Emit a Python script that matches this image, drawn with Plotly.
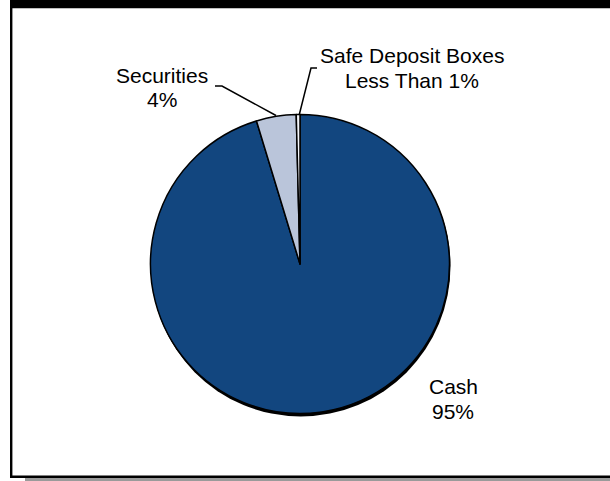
import plotly.graph_objects as go

# ---- data ----
categories = ["Cash", "Securities", "Safe Deposit Boxes"]
values = [95.3, 4.3, 0.4]
label_lines = [["Cash", "95%"], ["Securities", "4%"], ["Safe Deposit Boxes", "Less Than 1%"]]
colors = ["#12467F", "#BAC5DA", "#F4F6FA"]

W, H = 610, 481


def px(x):
    return x / W


def py(y):
    return 1 - y / H


cx, cy, r = 300, 264, 149.5

fig = go.Figure(go.Pie(
    labels=categories,
    values=values,
    sort=False,
    direction="clockwise",
    rotation=0,
    textinfo="none",
    hoverinfo="label+percent",
    marker=dict(colors=colors, line=dict(color="black", width=1.5)),
    domain=dict(x=[px(cx - r), px(cx + r)], y=[py(cy + r), py(cy - r)]),
    showlegend=False,
))

shapes = []
# frame
shapes.append(dict(type="rect", xref="paper", yref="paper", x0=px(25), x1=px(612), y0=py(482), y1=py(478),
                   fillcolor="#9A9A9A", line_width=0, layer="below"))
shapes.append(dict(type="rect", xref="paper", yref="paper", x0=px(11), x1=px(612), y0=py(8.3), y1=py(-2),
                   fillcolor="black", line_width=0))
shapes.append(dict(type="rect", xref="paper", yref="paper", x0=px(10), x1=px(12.4), y0=py(478), y1=py(-2),
                   fillcolor="black", line_width=0))
shapes.append(dict(type="rect", xref="paper", yref="paper", x0=px(10), x1=px(612), y0=py(478), y1=py(475.4),
                   fillcolor="black", line_width=0))
# pie shadow
shapes.append(dict(type="circle", xref="paper", yref="paper", x0=px(cx - r + 0.5), x1=px(cx + r + 1),
                   y0=py(cy + r + 3), y1=py(cy - r + 1), fillcolor="black", line_width=0, layer="below"))
# leader lines
shapes.append(dict(type="path", xref="paper", yref="paper",
                   path=f"M {px(215)} {py(86)} L {px(222)} {py(86)} L {px(276)} {py(115.5)}",
                   line=dict(color="black", width=1.5)))
shapes.append(dict(type="path", xref="paper", yref="paper",
                   path=f"M {px(299.3)} {py(114.5)} L {px(311)} {py(68)} L {px(317)} {py(68)}",
                   line=dict(color="black", width=1.5)))

label_pos = {"Cash": (453, [385.5, 410.5]),
             "Securities": (161.5, [74, 98.5]),
             "Safe Deposit Boxes": (412, [54, 79])}

annotations = []
for cat, lines in zip(categories, label_lines):
    x, ys = label_pos[cat]
    for line, y in zip(lines, ys):
        annotations.append(dict(xref="paper", yref="paper", x=px(x), y=py(y + 1), text=line,
                                showarrow=False, xanchor="center", yanchor="middle",
                                font=dict(family="Liberation Sans, Arial, sans-serif", size=21, color="black")))

fig.update_layout(
    width=W, height=H,
    margin=dict(l=0, r=0, t=0, b=0),
    paper_bgcolor="white",
    plot_bgcolor="white",
    shapes=shapes,
    annotations=annotations,
)

fig.write_html("out.html",
               config={"displayModeBar": False},
               post_script="document.body.style.margin='0';document.body.style.overflow='hidden';")
